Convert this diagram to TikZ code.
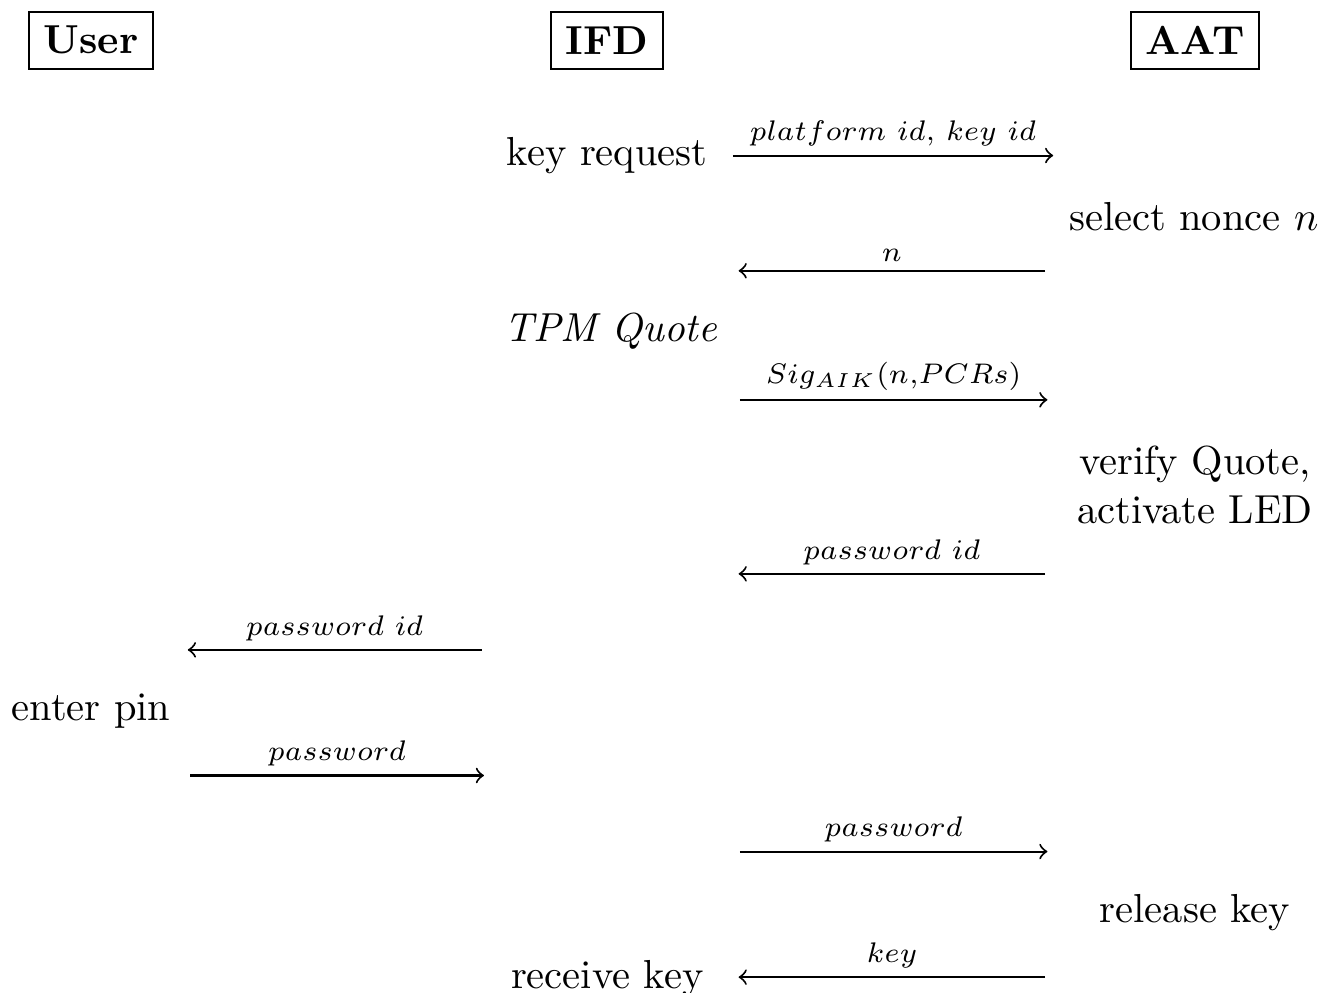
\documentclass[tikz,border=0pt]{standalone}
\usepackage{amsmath}
\usetikzlibrary{arrows,positioning}

\begin{document}
\begin{tikzpicture}[
    line width=0.5pt,
    party/.style={draw, font=\bfseries, inner sep=3.6pt},
    msg/.style={above, inner sep=2pt, font=\scriptsize},
  ]
  \useasboundingbox (0,0) rectangle (11.49,-8.61);

  % Parties
  \node[party] (user) at (0.79,-0.35) {User};
  \node[party] (ifd)  at (5.27,-0.35) {IFD};
  \node[party] (aat)  at (10.37,-0.35) {AAT};

  % Local steps
  \node (keyreq)  at (5.27,-1.35) {key request};
  \node (nonce)   at (10.36,-1.88) {select nonce $n$};
  \node (quote)   at (5.30,-2.87) {\textit{TPM Quote}};
  \node[align=center] (verify) at (10.37,-4.21) {verify Quote,\\activate LED};
  \node (pin)     at (0.79,-6.17) {enter pin};
  \node (release) at (10.37,-7.92) {release key};
  \node (receive) at (5.27,-8.49) {receive key};

  % Message ends
  \coordinate (m1a) at (6.36,-1.35);  \coordinate (m1b) at (9.14,-1.35);
  \coordinate (m2a) at (9.07,-2.35);  \coordinate (m2b) at (6.41,-2.35);
  \coordinate (m3a) at (6.42,-3.47);  \coordinate (m3b) at (9.09,-3.47);
  \coordinate (m4a) at (9.07,-4.98);  \coordinate (m4b) at (6.41,-4.98);
  \coordinate (m5a) at (4.18,-5.64);  \coordinate (m5b) at (1.63,-5.64);
  \coordinate (m6a) at (1.65,-6.73);  \coordinate (m6b) at (4.20,-6.73);
  \coordinate (m7a) at (6.42,-7.39);  \coordinate (m7b) at (9.09,-7.39);
  \coordinate (m8a) at (9.07,-8.48);  \coordinate (m8b) at (6.41,-8.48);

  % Messages
  \draw[->] (m1a) -- node[msg] {$platform\ id{,}\ key\ id$} (m1b);
  \draw[->] (m2a) -- node[msg] {$n$} (m2b);
  \draw[->] (m3a) -- node[msg] {$Sig_{AIK}(n{,}PCRs)$} (m3b);
  \draw[->] (m4a) -- node[msg] {$password\ id$} (m4b);
  \draw[->] (m5a) -- node[msg] {$password\ id$} (m5b);
  \draw[->] (m6a) -- node[msg] {$password$} (m6b);
  \draw[->] (m7a) -- node[msg] {$password$} (m7b);
  \draw[->] (m8a) -- node[msg] {$key$} (m8b);
\end{tikzpicture}
\end{document}
